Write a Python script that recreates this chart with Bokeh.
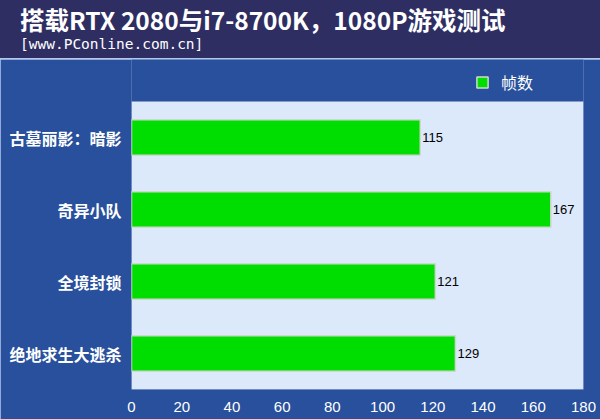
from bokeh.plotting import figure
from bokeh.models import (Range1d, Legend, LegendItem, ColumnDataSource, FixedTicker,
                          Div, BoxAnnotation)
from bokeh.layouts import column
from bokeh.embed import file_html
from bokeh.resources import INLINE
from bokeh.core.properties import value

# ---- data ----
games = ["古墓丽影：暗影", "奇异小队", "全境封锁", "绝地求生大逃杀"]
fps = [115, 167, 121, 129]
series_name = "帧数"
x_ticks = [0, 20, 40, 60, 80, 100, 120, 140, 160, 180]
title_text = "搭载RTX 2080与i7-8700K，1080P游戏测试"
subtitle_text = "[www.PConline.com.cn]"

W = 600
HEAD_H = 58
MAIN_H = 360

NAVY = "#2e2e63"
BLUE = "#28509c"
PLOT_BG = "#dce9fb"
GREEN = "#00dd00"

# ---- header ----
header_html = (
    '<div style="position:relative;width:%dpx;height:%dpx;">'
    '<div style="position:absolute;left:20px;top:7px;line-height:26px;white-space:nowrap;'
    'font-family:\'Noto Sans CJK SC\';font-weight:bold;font-size:24.5px;color:white;">%s</div>'
    '<div style="position:absolute;left:20px;top:36px;line-height:17px;white-space:nowrap;'
    'font-family:\'DejaVu Sans Mono\';font-size:14.5px;color:white;">%s</div>'
    '</div>' % (W, HEAD_H, title_text, subtitle_text)
)
h = Div(text=header_html, width=W, height=HEAD_H,
        styles={"background-color": NAVY, "margin": "0", "padding": "0"})

# ---- main chart ----
n = len(games)
ypos = [n - 1 - i for i in range(n)]          # first game on top
src = ColumnDataSource(dict(y=ypos, fps=fps,
                            lbl=[str(v) for v in fps],
                            lx=[v + 0.8 for v in fps]))

p = figure(width=W, height=MAIN_H, y_range=Range1d(-0.5, n - 0.5 + 42 / 72),
           x_range=Range1d(0, 180), output_backend="svg", toolbar_location=None,
           min_border_left=131, min_border_right=17, min_border_top=0, min_border_bottom=30)
p.background_fill_color = BLUE
p.border_fill_color = BLUE
p.outline_line_color = None
p.grid.visible = False

p.add_layout(BoxAnnotation(top=n - 0.5, fill_color=PLOT_BG, fill_alpha=1,
                           line_color=None, level="underlay"))

r = p.hbar(y="y", right="fps", left=0, height=0.49, source=src,
           fill_color=GREEN, line_color="#cfd8cf", line_width=1.5)
p.text(x="lx", y="y", text="lbl", source=src, text_color="black",
       text_font=value("Liberation Sans"), text_font_size="13px",
       text_baseline="middle", text_align="left")

p.xaxis.ticker = FixedTicker(ticks=x_ticks)
p.xaxis.axis_line_color = None
p.xaxis.major_tick_line_color = None
p.xaxis.minor_tick_line_color = None
p.xaxis.major_label_text_color = "white"
p.xaxis.major_label_text_font = "Liberation Sans"
p.xaxis.major_label_text_font_size = "15px"
p.xaxis.major_label_standoff = 6

p.yaxis.ticker = FixedTicker(ticks=ypos)
p.yaxis.major_label_overrides = {yy: g for yy, g in zip(ypos, games)}
p.yaxis.axis_line_color = None
p.yaxis.major_tick_line_color = None
p.yaxis.minor_tick_line_color = None
p.yaxis.major_label_text_color = "white"
p.yaxis.major_label_text_font = "Noto Sans CJK SC"
p.yaxis.major_label_text_font_style = "bold"
p.yaxis.major_label_text_font_size = "16px"
p.yaxis.major_label_standoff = 4

legend = Legend(items=[LegendItem(label=series_name, renderers=[r])],
                location="top_right", orientation="horizontal",
                background_fill_alpha=0, border_line_color=None,
                padding=0, margin=11, glyph_width=14, glyph_height=14,
                label_width=71, label_height=20,
                label_text_color="white", label_text_font="Noto Sans CJK SC",
                label_text_font_size="16px", label_standoff=12)
p.add_layout(legend)

layout = column(h, p, spacing=1, styles={"background-color": "#b4c8ec"})

open("out.html", "w").write(file_html(layout, INLINE))
